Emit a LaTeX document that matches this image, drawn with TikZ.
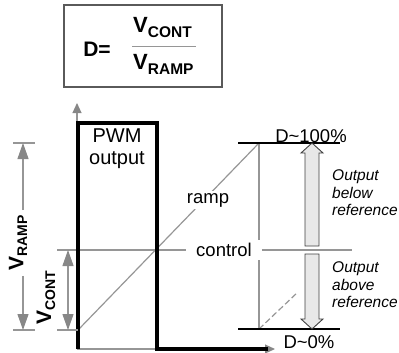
\documentclass[tikz,border=0pt]{standalone}
\usepackage{fontspec}
\setmainfont{Liberation Sans}
\usetikzlibrary{arrows.meta,positioning,calc}
\definecolor{LineGray}{RGB}{150,150,150}
\definecolor{TipGray}{RGB}{135,135,135}
\definecolor{FillGray}{RGB}{232,232,232}
\definecolor{BoxGray}{RGB}{90,90,90}
% V with a lowered subscript: #1 text, #2 size of V, #3 size of subscript
\newcommand{\Vsub}[3]{{\fontsize{#2}{#2}\selectfont\bfseries V}{\fontsize{#3}{#3}\selectfont\bfseries\raisebox{-0.28em}{#1}}}

\begin{document}
\begin{tikzpicture}[x=1pt, y=-1pt,
  lbl/.style={font=\fontsize{18.5}{20}\selectfont, inner sep=1pt},
  note/.style={font=\fontsize{15.5}{17.5}\selectfont\itshape, align=left, inner sep=0pt},
  glin/.style={LineGray, line width=1.2pt},
  pwm/.style={line width=3.2pt, line join=miter},
  lvl/.style={line width=2pt},
  tick/.style={LineGray, line width=1.1pt},
  dim/.style={LineGray, line width=1.1pt, -{Triangle[length=16pt,width=11pt,color=TipGray]}},
  dimboth/.style={LineGray, line width=1.1pt, {Triangle[length=16pt,width=11pt,color=TipGray]}-{Triangle[length=16pt,width=11pt,color=TipGray]}},
  axis/.style={LineGray, line width=1.1pt, -{Triangle[length=10pt,width=9pt,color=TipGray]}},
  hollow/.style={draw=black!75, fill=FillGray, line width=0.9pt, line join=miter}
]
  \useasboundingbox (0,0) rectangle (399,353);

  % formula box
  \node[draw=BoxGray, line width=1.2pt, minimum width=158pt, minimum height=82pt, inner sep=0pt] (fbox) at (143,46) {};
  \node[font=\fontsize{21}{21}\selectfont\bfseries, inner sep=0pt] (deq) at (97,49) {D=};
  \node[anchor=base west, inner sep=0pt] (fnum) at (133,33) {\Vsub{CONT}{22}{15.5}};
  \node[anchor=base west, inner sep=0pt] (fden) at (133,70) {\Vsub{RAMP}{22}{15.5}};
  \coordinate (barl) at (132,47);
  \coordinate (barr) at (196,47);
  \draw[LineGray, line width=1pt] (barl) -- (barr);

  % levels
  \coordinate (top) at (259,143);
  \coordinate (bot) at (259,329);
  \coordinate (rampstart) at (79,329);
  \coordinate (dashend) at (298,292);
  \draw[glin] (top) -- (bot);
  \draw[glin, dashed, dash pattern=on 6pt off 3pt] (bot) -- (dashend);

  % axes
  \coordinate (origin) at (77,349);
  \coordinate (ytip) at (77,103);
  \coordinate (xtip) at (275,349);
  \draw[axis] (origin) -- (ytip);
  \draw[axis] (origin) -- (xtip);

  % ramp
  \draw[glin] (rampstart) -- (top);
  \node[lbl, fill=white, inner sep=2pt] (ramp) at (208,200) {ramp};

  % control line
  \coordinate (ctrll) at (57,250);
  \coordinate (ctrlr) at (352,250);
  \node[lbl, fill=white, inner xsep=10pt, inner ysep=3pt] (control) at (224,250) {control};
  \draw[glin] (ctrll) -- (control.west);
  \draw[glin] (control.east) -- (ctrlr);

  % PWM output
  \draw[pwm] (78,349) -- (78,123) -- (157,123) -- (157,349) -- (268,349);
  \node[font=\fontsize{20}{22}\selectfont, align=center, inner sep=0pt] (pwmlbl) at (117,149) {PWM\\output};

  % duty levels
  \coordinate (hil) at (238,143);
  \coordinate (hir) at (340,143);
  \coordinate (lol) at (238,329);
  \coordinate (lor) at (340,329);
  \draw[lvl] (hil) -- (hir);
  \draw[lvl] (lol) -- (lor);
  \node[lbl, anchor=base, inner sep=0pt] (dhi) at (311,142) {D\textasciitilde100\%};
  \node[lbl, anchor=base, inner sep=0pt] (dlo) at (309,348) {D\textasciitilde0\%};

  % hollow arrows
  \draw[hollow] (305,246) -- (305,153) -- (301,153) -- (312,143) -- (323,153) -- (319,153) -- (319,246) -- cycle;
  \draw[hollow] (305,254) -- (305,319) -- (301,319) -- (312,329) -- (323,319) -- (319,319) -- (319,254) -- cycle;
  \node[note, anchor=west] (below) at (332,193) {Output\\below\\reference};
  \node[note, anchor=west] (above) at (332,285) {Output\\above\\reference};

  % dimensions
  \coordinate (rtop) at (23,143);
  \coordinate (rbot) at (23,330);
  \draw[tick] (13,143) -- (35,143);
  \draw[tick] (13,330) -- (35,330);
  \node[rotate=90, inner xsep=5pt, inner ysep=0pt] (vramp) at (18,243) {\Vsub{RAMP}{21}{14}};
  \draw[dim] ($(vramp.east)+(5,0)$) -- (rtop);
  \draw[dim] ($(vramp.west)+(5,0)$) -- (rbot);
  \coordinate (ctop) at (68,250);
  \coordinate (cbot) at (68,330);
  \draw[tick] (57,330) -- (78,330);
  \draw[dimboth] (ctop) -- (cbot);
  \node[rotate=90, inner sep=0pt] (vcont) at (46,298) {\Vsub{CONT}{21}{14}};
\end{tikzpicture}
\end{document}
